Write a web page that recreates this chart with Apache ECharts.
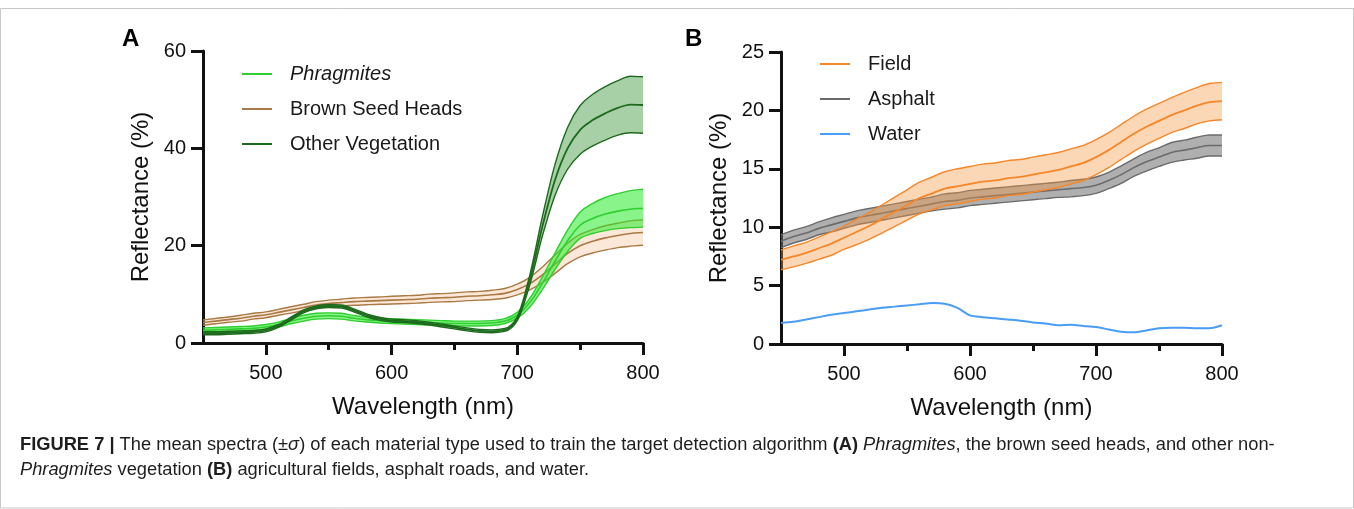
<!DOCTYPE html>
<html>
<head>
<meta charset="utf-8">
<script src="https://cdn.jsdelivr.net/npm/echarts@6/dist/echarts.min.js"></script>
<style>
html,body{margin:0;padding:0;background:#fff;}
#chart{width:1354px;height:509px;}
</style>
</head>
<body>
<div id="chart"></div>
<script>
// ---------- DATA ----------
const wavelengths = [450,460,470,480,490,500,510,520,530,540,550,560,570,580,590,600,610,620,630,640,650,660,670,680,690,700,710,720,730,740,750,760,770,780,790,800];
const xTickLabels = [500,600,700,800];
const xMinorTicks = [550,650,750];

// Panel A
const phragMean = [2.6,2.7,2.8,2.9,3.0,3.3,3.8,4.5,5.1,5.5,5.6,5.5,5.1,4.8,4.6,4.5,4.4,4.3,4.2,4.1,4.0,4.0,4.0,4.1,4.5,5.7,8.3,12.3,16.8,21.0,24.2,25.6,26.5,27.1,27.5,27.7];
const phragSd   = [0.5,0.5,0.5,0.5,0.5,0.5,0.5,0.55,0.6,0.6,0.6,0.6,0.55,0.5,0.5,0.5,0.5,0.5,0.5,0.5,0.5,0.5,0.5,0.5,0.5,0.6,0.9,1.3,1.7,2.2,2.7,3.1,3.4,3.6,3.8,3.9];
const brownMean = [4.2,4.5,4.8,5.1,5.5,5.8,6.3,6.8,7.3,7.8,8.1,8.3,8.5,8.6,8.7,8.8,8.9,9.0,9.2,9.3,9.4,9.6,9.7,9.9,10.2,11.0,12.2,14.0,16.2,18.4,20.0,20.9,21.6,22.1,22.5,22.7];
const brownSd   = [0.55,0.55,0.55,0.6,0.6,0.6,0.6,0.65,0.65,0.7,0.7,0.7,0.75,0.75,0.75,0.8,0.8,0.8,0.85,0.85,0.9,0.9,0.9,0.95,1.0,1.1,1.3,1.6,1.9,2.1,2.3,2.4,2.5,2.5,2.6,2.6];
const otherMean = [2.0,2.0,2.1,2.2,2.3,2.6,3.5,5.0,6.5,7.3,7.6,7.5,6.7,5.7,5.0,4.6,4.5,4.3,4.0,3.6,3.2,2.8,2.5,2.4,2.7,5.0,13.0,24.0,33.5,40.0,43.8,45.8,47.2,48.3,49.0,48.9];
const otherSd   = [0.3,0.3,0.3,0.3,0.3,0.3,0.3,0.3,0.3,0.3,0.3,0.3,0.3,0.3,0.3,0.3,0.3,0.3,0.3,0.3,0.3,0.3,0.3,0.3,0.3,0.4,1.0,2.0,3.2,4.3,5.0,5.3,5.5,5.6,5.8,5.8];

// Panel B
const fieldMean = [7.2,7.5,7.8,8.2,8.6,9.1,9.6,10.1,10.7,11.3,11.9,12.5,12.9,13.3,13.5,13.7,13.9,14.0,14.2,14.3,14.5,14.7,14.9,15.2,15.5,16.0,16.6,17.3,18.0,18.6,19.1,19.6,20.0,20.4,20.7,20.8];
const fieldSd   = [0.85,0.9,0.9,0.95,1.0,1.0,1.1,1.15,1.2,1.25,1.3,1.35,1.4,1.45,1.5,1.5,1.5,1.5,1.5,1.5,1.5,1.5,1.5,1.5,1.5,1.5,1.5,1.5,1.5,1.5,1.5,1.5,1.55,1.55,1.6,1.6];
const asphaltMean = [8.8,9.2,9.5,9.9,10.2,10.5,10.8,11.0,11.2,11.4,11.6,11.8,12.0,12.2,12.3,12.5,12.6,12.7,12.8,12.9,13.0,13.1,13.2,13.3,13.4,13.6,14.0,14.5,15.1,15.6,16.0,16.4,16.6,16.8,17.0,17.0];
const asphaltSd   = [0.55,0.55,0.55,0.55,0.6,0.6,0.6,0.6,0.6,0.6,0.6,0.6,0.6,0.65,0.65,0.65,0.65,0.65,0.65,0.65,0.65,0.65,0.65,0.7,0.7,0.7,0.7,0.75,0.75,0.8,0.8,0.85,0.85,0.9,0.9,0.9];
const waterMean = [1.8,1.9,2.1,2.3,2.5,2.65,2.8,2.95,3.1,3.2,3.3,3.4,3.5,3.45,3.1,2.45,2.3,2.2,2.1,2.0,1.85,1.75,1.6,1.65,1.55,1.45,1.25,1.05,1.0,1.15,1.35,1.4,1.4,1.35,1.35,1.6];

const yTicksA = {min:0, max:60, interval:20};
const yTicksB = {min:0, max:25, interval:5};

// ---------- BUILD ----------
const FONT = '"Liberation Sans", Arial, Helvetica, sans-serif';
function pairs(ys){ return wavelengths.map((w,i)=>[w, ys[i]]); }

// monotone-x cubic segments through screen points (rendering only)
function monoSegs(pts){
  const n = pts.length, s = [], t = new Array(n);
  for (let i=0;i<n-1;i++) s[i] = (pts[i+1][1]-pts[i][1])/(pts[i+1][0]-pts[i][0]);
  for (let i=1;i<n-1;i++){
    const h0 = pts[i][0]-pts[i-1][0], h1 = pts[i+1][0]-pts[i][0];
    const p = (s[i-1]*h1 + s[i]*h0)/(h0+h1);
    t[i] = (Math.sign(s[i-1])+Math.sign(s[i]))*Math.min(Math.abs(s[i-1]),Math.abs(s[i]),0.5*Math.abs(p)) || 0;
  }
  t[0] = s[0]; t[n-1] = s[n-2];
  const segs = [];
  for (let i=0;i<n-1;i++){
    const dx = (pts[i+1][0]-pts[i][0])/3;
    segs.push([pts[i], [pts[i][0]+dx, pts[i][1]+dx*t[i]], [pts[i+1][0]-dx, pts[i+1][1]-dx*t[i+1]], pts[i+1]]);
  }
  return segs;
}
function P(p){ return p[0].toFixed(2)+' '+p[1].toFixed(2); }
function curveD(pts){
  const segs = monoSegs(pts);
  let d = 'M'+P(pts[0]);
  segs.forEach(sg=>{ d += ' C'+P(sg[1])+' '+P(sg[2])+' '+P(sg[3]); });
  return d;
}
function bandD(up, lo){
  let d = curveD(up);
  const segs = monoSegs(lo);
  d += ' L'+P(lo[lo.length-1]);
  for (let i=segs.length-1;i>=0;i--){ const sg = segs[i]; d += ' C'+P(sg[2])+' '+P(sg[1])+' '+P(sg[0]); }
  return d + ' Z';
}

function bandSeries(name, mean, sd, lineColor, fillColor, xIdx, yIdx, meanWidth){
  return {
    type:'custom', name:name, xAxisIndex:xIdx, yAxisIndex:yIdx, silent:true,
    itemStyle:{color:lineColor},
    data:pairs(mean),
    renderItem:function(params, api){
      if (params.dataIndex !== 0) return null;
      const up = wavelengths.map((w,i)=>api.coord([w, mean[i]+sd[i]]));
      const lo = wavelengths.map((w,i)=>api.coord([w, mean[i]-sd[i]]));
      const mid = wavelengths.map((w,i)=>api.coord([w, mean[i]]));
      return {type:'group', children:[
        {type:'path', shape:{pathData:bandD(up, lo)}, style:{fill:fillColor, stroke:'none'}},
        {type:'path', shape:{pathData:curveD(up)}, style:{fill:'none', stroke:lineColor, lineWidth:1.4}},
        {type:'path', shape:{pathData:curveD(lo)}, style:{fill:'none', stroke:lineColor, lineWidth:1.4}},
        {type:'path', shape:{pathData:curveD(mid)}, style:{fill:'none', stroke:lineColor, lineWidth:meanWidth}}
      ]};
    }
  };
}

const cBrown = '#a97a45', cPhrag = '#2fcf2f', cOther = '#1d6a1d';
const cField = '#f5862a', cAsph = '#6b6b6b', cWater = '#4a9cf5';

const series = [
  bandSeries('Brown Seed Heads', brownMean, brownSd, cBrown, 'rgba(247,190,145,0.35)', 0, 0, 1.6),
  bandSeries('Phragmites', phragMean, phragSd, cPhrag, 'rgba(40,235,40,0.55)', 0, 0, 1.6),
  bandSeries('Other Vegetation', otherMean, otherSd, cOther, 'rgba(60,150,60,0.45)', 0, 0, 1.8),
  bandSeries('Asphalt', asphaltMean, asphaltSd, cAsph, 'rgba(110,110,110,0.55)', 2, 1, 1.6),
  bandSeries('Field', fieldMean, fieldSd, cField, 'rgba(248,150,60,0.38)', 2, 1, 1.8),
  {type:'line', name:'Water', xAxisIndex:2, yAxisIndex:1, symbol:'none', smooth:0.3, silent:true,
   data:pairs(waterMean), itemStyle:{color:cWater}, lineStyle:{color:cWater, width:2}}
];

function mainX(grid){
  return {
    type:'value', gridIndex:grid, min:450, max:800, position:'bottom',
    name:'Wavelength (nm)', nameLocation:'middle', nameGap:52,
    nameTextStyle:{fontFamily:FONT, fontSize:24, color:'#111'},
    axisLine:{show:true, onZero:false, lineStyle:{color:'#111', width:3}},
    axisTick:{show:true, inside:false, length:12, customValues:xTickLabels, lineStyle:{color:'#111', width:3}},
    axisLabel:{show:true, customValues:xTickLabels, margin:20, fontFamily:FONT, fontSize:20, color:'#111'},
    splitLine:{show:false}
  };
}
function minorX(grid){
  return {
    type:'value', gridIndex:grid, min:450, max:800, position:'bottom',
    axisLine:{show:false},
    axisTick:{show:true, inside:false, length:7, customValues:xMinorTicks, lineStyle:{color:'#111', width:3}},
    axisLabel:{show:false},
    splitLine:{show:false}
  };
}
function yAx(grid, t){
  return {
    type:'value', gridIndex:grid, min:t.min, max:t.max, interval:t.interval,
    name:'Reflectance (%)', nameLocation:'middle', nameGap:50,
    nameTextStyle:{fontFamily:FONT, fontSize:24, color:'#111'},
    axisLine:{show:true, onZero:false, lineStyle:{color:'#111', width:3}},
    axisTick:{show:true, inside:false, length:12, lineStyle:{color:'#111', width:3}},
    axisLabel:{margin:17, fontFamily:FONT, fontSize:20, color:'#111'},
    splitLine:{show:false}
  };
}

function legend(left, top, names){
  return {
    left:left, top:top, orient:'vertical',
    data:names.map(n=>({name:n, icon:'path://M0,0 L30,0 L30,2 L0,2 Z'})),
    itemWidth:30, itemHeight:2, itemGap:15,
    selectedMode:false,
    textStyle:{fontFamily:FONT, fontSize:20, color:'#1a1a1a', padding:[0,0,0,13], lineHeight:20,
      rich:{i:{fontFamily:FONT, fontSize:20, fontStyle:'italic', color:'#1a1a1a', lineHeight:20}}},
    formatter:function(n){ return n === 'Phragmites' ? '{i|Phragmites}' : n; }
  };
}

const CAP = 18.3;
const capRich = {b:{font:'bold '+CAP+'px '+FONT, fill:'#1e1e1e'}, i:{font:'italic '+CAP+'px '+FONT, fill:'#1e1e1e'}};

const option = {
  animation:false,
  backgroundColor:'#fff',
  grid:[
    {left:203, right:711, top:51, bottom:166, containLabel:false},
    {left:781, right:132, top:52, bottom:165, containLabel:false}
  ],
  xAxis:[mainX(0), minorX(0), mainX(1), minorX(1)],
  yAxis:[yAx(0, yTicksA), yAx(1, yTicksB)],
  legend:[
    legend(237, 59, ['Phragmites','Brown Seed Heads','Other Vegetation']),
    legend(815, 49, ['Field','Asphalt','Water'])
  ],
  graphic:[
    {type:'rect', shape:{x:0.5, y:8.5, width:1353, height:499.5}, style:{fill:'none', stroke:'#c8c8c8', lineWidth:1}, silent:true},
    {type:'text', left:122, top:27, style:{text:'A', font:'bold 24px '+FONT, fill:'#000'}},
    {type:'text', left:685, top:27, style:{text:'B', font:'bold 24px '+FONT, fill:'#000'}},
    {type:'text', left:20, top:436, style:{
      text:'{b|FIGURE 7 |} The mean spectra (±{i|σ}) of each material type used to train the target detection algorithm {b|(A)} {i|Phragmites}, the brown seed heads, and other non-',
      font:CAP+'px '+FONT, fill:'#1e1e1e', rich:capRich
    }},
    {type:'text', left:20, top:461, style:{
      text:'{i|Phragmites} vegetation {b|(B)} agricultural fields, asphalt roads, and water.',
      font:CAP+'px '+FONT, fill:'#1e1e1e', rich:capRich
    }}
  ],
  series: series
};

const chart = echarts.init(document.getElementById('chart'), null, {renderer:'canvas'});
chart.setOption(option);
</script>
</body>
</html>
